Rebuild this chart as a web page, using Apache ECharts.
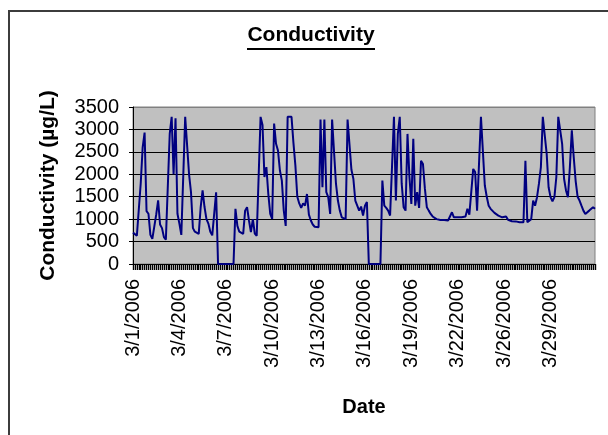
<!DOCTYPE html>
<html>
<head>
<meta charset="utf-8">
<script src="https://cdn.jsdelivr.net/npm/echarts@6/dist/echarts.min.js"></script>
<style>
  html, body { margin: 0; padding: 0; background: #fff; }
  #chart { width: 608px; height: 435px; }
</style>
</head>
<body>
<div id="chart"></div>
<script>
// labels shown on the date axis, one every 24 samples
var tickDates = ["3/1/2006", "3/4/2006", "3/7/2006", "3/10/2006", "3/13/2006",
  "3/16/2006", "3/19/2006", "3/22/2006", "3/26/2006", "3/29/2006"];
var samplesPerTick = 24;

// conductivity readings (ug/L)
var conductivity = [
  700, 680, 630, 590, 1800, 2600, 2930, 1180, 1120, 650,
  560, 540, 1100, 1420, 880, 800, 600, 540, 560, 2900,
  3280, 2000, 3250, 1120, 900, 650, 650, 3280, 3280, 2000,
  1600, 800, 720, 680, 670, 1260, 1640, 1270, 1000, 900,
  720, 640, 650, 1600, 0, 0, 0, 0, 0, 0,
  0, 0, 0, 1230, 850, 720, 700, 670, 1190, 1266,
  970, 710, 1000, 680, 630, 640, 3280, 3100, 1940, 2160,
  1560, 1117, 1005, 3130, 2680, 2530, 2085, 1860, 1190, 850,
  3280, 3280, 3280, 2700, 2200, 1500, 1350, 1250, 1350, 1300,
  1560, 1100, 970, 880, 830, 810, 820, 3220, 1710, 3220,
  1600, 1490, 1117, 3220, 3220, 1790, 1415, 1190, 1040, 1010,
  1000, 3220, 3220, 2100, 1900, 1415, 1380, 1190, 1280, 1080,
  1300, 1380, 0, 0, 0, 0, 0, 0, 0, 1860,
  1300, 1250, 1190, 1080, 1040, 3280, 1415, 2900, 3280, 1790,
  1266, 1190, 2900, 1940, 1340, 2790, 1300, 1600, 1250, 2300,
  2230, 1680, 1266, 1190, 1117, 1060, 1040, 1000, 983, 983,
  983, 983, 970, 970, 970, 1154, 1040, 1040, 1040, 1040,
  1040, 1050, 1060, 1230, 1100, 1130, 2120, 2050, 1190, 1190,
  3280, 3280, 1750, 1500, 1300, 1230, 1190, 1140, 1117, 1080,
  1060, 1040, 1005, 1060, 985, 953, 953, 953, 950, 940,
  930, 930, 930, 2300, 930, 950, 1000, 1415, 1300, 1490,
  1790, 2160, 3280, 3280, 2460, 1710, 1490, 1400, 1490, 1940,
  3280, 3280, 2680, 1900, 1640, 1490, 2160, 2980, 2380, 1850,
  1500, 1415, 1300, 1190, 1117, 1140, 1190, 1230, 1266, 1230
];

// each sample carries the date of the label block it falls in
var sampleDates = conductivity.map(function (v, i) {
  return tickDates[Math.floor(i / samplesPerTick)];
});

var font = "Liberation Sans, Arial, sans-serif";

var chart = echarts.init(document.getElementById("chart"));
var option = {
  animation: false,
  backgroundColor: "#fff",
  title: {
    text: "Conductivity",
    left: 311,
    top: 25,
    textAlign: "center",
    padding: 0,
    textStyle: { fontFamily: font, fontSize: 21, fontWeight: "bold", color: "#000" }
  },
  graphic: [
    {
      type: "rect",
      shape: { x: 9, y: 11, width: 640, height: 460 },
      style: { fill: null, stroke: "#3c3c3c", lineWidth: 2 },
      silent: true
    },
    {
      type: "line",
      shape: { x1: 247, y1: 49, x2: 375, y2: 49 },
      style: { stroke: "#000", lineWidth: 2 },
      silent: true
    }
  ],
  grid: {
    left: 133,
    right: 13,
    top: 107,
    bottom: 171,
    show: true,
    backgroundColor: "#c0c0c0",
    borderColor: "#808080",
    borderWidth: 1
  },
  xAxis: {
    type: "category",
    data: sampleDates,
    boundaryGap: false,
    name: "Date",
    nameLocation: "middle",
    nameGap: 133,
    nameTextStyle: { fontFamily: font, fontSize: 20, fontWeight: "bold", color: "#000" },
    axisLine: { lineStyle: { color: "#000", width: 1 } },
    axisTick: { interval: 0, length: 6, lineStyle: { color: "#000", width: 1.4 } },
    axisLabel: {
      interval: samplesPerTick - 1,
      rotate: 90,
      margin: 15,
      fontFamily: font,
      fontSize: 20,
      color: "#000"
    },
    splitLine: { show: false }
  },
  yAxis: {
    type: "value",
    min: 0,
    max: 3500,
    interval: 500,
    name: "Conductivity (\u00b5g/L)",
    nameLocation: "middle",
    nameGap: 74,
    nameTextStyle: { fontFamily: font, fontSize: 21, fontWeight: "bold", color: "#000" },
    axisLine: { show: true, lineStyle: { color: "#000", width: 1 } },
    axisTick: { show: true, length: 4, lineStyle: { color: "#000" } },
    axisLabel: {
      margin: 14,
      fontFamily: font,
      fontSize: 20,
      color: "#000",
      formatter: function (v) { return String(v); }
    },
    splitLine: {
      show: true,
      lineStyle: {
        color: ["#000", "#000", "#000", "#000", "#000", "#000", "#000", "#808080"],
        width: 1
      }
    }
  },
  series: [
    {
      name: "Conductivity",
      type: "line",
      data: conductivity,
      symbol: "none",
      lineStyle: { color: "#000080", width: 2 },
      itemStyle: { color: "#000080" }
    }
  ]
};
chart.setOption(option);
</script>
</body>
</html>
